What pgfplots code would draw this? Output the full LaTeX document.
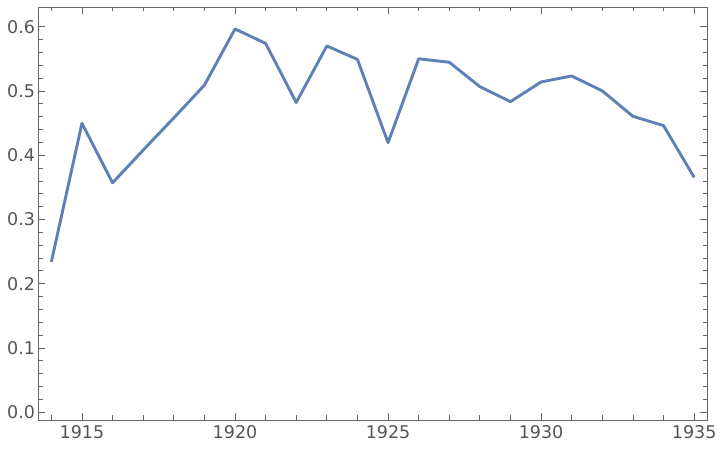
\documentclass[border=0pt]{standalone}
\usepackage{pgfplots}
\pgfplotsset{compat=1.18}
\usepackage{fontspec}
\setmainfont{DejaVu Sans}
\definecolor{linec}{HTML}{5E81B5}
\definecolor{axc}{HTML}{666666}
\definecolor{labc}{HTML}{555555}
\begin{document}
\begin{tikzpicture}
\begin{axis}[
  scale only axis,
  width=668.5pt, height=413pt,
  xmin=1913.58, xmax=1935.42,
  ymin=-0.012, ymax=0.6306,
  axis line style={axc, line width=0.9pt},
  every tick/.style={axc, line width=0.8pt},
  tick align=inside,
  major tick length=7pt, minor tick length=4.5pt,
  xtick={1915,1920,1925,1930,1935},
  minor xtick={1914,1916,1917,1918,1919,1921,1922,1923,1924,1926,1927,1928,1929,1931,1932,1933,1934},
  ytick={0,0.1,0.2,0.3,0.4,0.5,0.6},
  minor y tick num=4,
  xtick pos=both, ytick pos=both,
  /pgf/number format/assume math mode=true,
  ticklabel style={font=\fontsize{17.5pt}{20pt}\selectfont, text=labc},
  xticklabels={1915,1920,1925,1930,1935},
  yticklabels={0.0,0.1,0.2,0.3,0.4,0.5,0.6},
  xticklabel shift=2pt,
  yticklabel shift=0pt,
]
\addplot[linec, line width=2.9pt, line join=round] coordinates {
(1914,0.234) (1915,0.4497) (1916,0.357) (1917,0.408) (1918,0.458) (1919,0.509)
(1920,0.5964) (1921,0.574) (1922,0.482) (1923,0.570) (1924,0.549) (1925,0.4195)
(1926,0.550) (1927,0.5446) (1928,0.5066) (1929,0.4833) (1930,0.514) (1931,0.5233)
(1932,0.500) (1933,0.4605) (1934,0.446) (1935,0.3656)
};
\end{axis}
\path ([shift={(-38.5pt,-32pt)}]current axis.south west) rectangle ([shift={(13pt,7pt)}]current axis.north east);
\end{tikzpicture}
\end{document}
